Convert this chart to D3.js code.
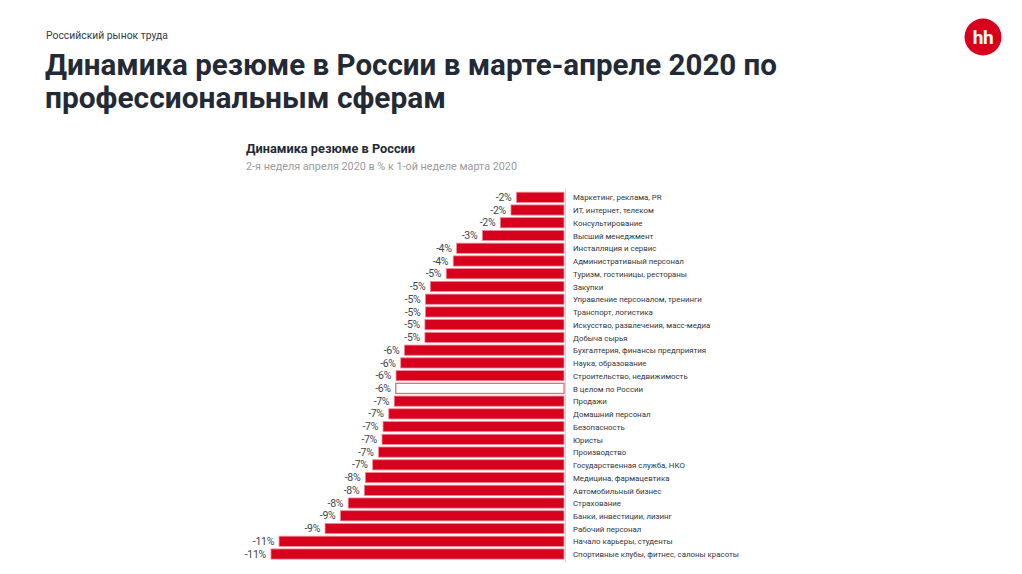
<!DOCTYPE html>
<html>
<head>
<meta charset="utf-8">
<script src="https://cdn.jsdelivr.net/npm/d3@7"></script>
<style>
  html, body { margin: 0; padding: 0; background: #fff; }
  svg { display: block; }
</style>
</head>
<body>
<svg id="chart" width="1022" height="574"></svg>
<script>
// ---- data ----
const categories = [
  "Маркетинг, реклама, PR",
  "ИТ, интернет, телеком",
  "Консультирование",
  "Высший менеджмент",
  "Инсталляция и сервис",
  "Административный персонал",
  "Туризм, гостиницы, рестораны",
  "Закупки",
  "Управление персоналом, тренинги",
  "Транспорт, логистика",
  "Искусство, развлечения, масс-медиа",
  "Добыча сырья",
  "Бухгалтерия, финансы предприятия",
  "Наука, образование",
  "Строительство, недвижимость",
  "В целом по России",
  "Продажи",
  "Домашний персонал",
  "Безопасность",
  "Юристы",
  "Производство",
  "Государственная служба, НКО",
  "Медицина, фармацевтика",
  "Автомобильный бизнес",
  "Страхование",
  "Банки, инвестиции, лизинг",
  "Рабочий персонал",
  "Начало карьеры, студенты",
  "Спортивные клубы, фитнес, салоны красоты"
];
// change of resumes, % (negative)
const values = [
  -1.83, -2.04, -2.45, -3.14, -4.13, -4.26, -4.53, -5.14, -5.33, -5.33,
  -5.35, -5.35, -6.14, -6.28, -6.46, -6.47, -6.53, -6.74, -6.96, -7.00,
  -7.13, -7.36, -7.64, -7.68, -8.30, -8.60, -9.19, -10.96, -11.27
];
const totalCategory = "В целом по России";
const pageKicker = "Российский рынок труда";
const pageTitle = ["Динамика резюме в России в марте-апреле 2020 по", "профессиональным сферам"];
const chartTitle = "Динамика резюме в России";
const chartSubtitle = "2-я неделя апреля 2020 в % к 1-ой неделе марта 2020";

// ---- drawing ----
const svg = d3.select("#chart");
const RED = "#d7001d";
const FONT = "Roboto, 'Noto Sans', sans-serif";

function fitWidth(sel, w) {
  const n = sel.node();
  const cur = n.getComputedTextLength();
  if (cur > 0) sel.attr("textLength", w).attr("lengthAdjust", "spacingAndGlyphs");
}

// kicker
svg.append("text").attr("x", 46).attr("y", 39)
  .attr("font-family", FONT).attr("font-size", 11.5).attr("fill", "#333a44")
  .text(pageKicker).call(s => fitWidth(s, 122));

// title
const titleWidths = [732, 401];
pageTitle.forEach((t, i) => {
  svg.append("text").attr("x", 45).attr("y", 75 + i * 33)
    .attr("font-family", FONT).attr("font-weight", 700).attr("font-size", 30)
    .attr("fill", "#232a35").text(t).call(s => fitWidth(s, titleWidths[i]));
});

// logo
const logo = svg.append("g").attr("transform", "translate(983,37)");
logo.append("circle").attr("r", 18.5).attr("fill", RED);
logo.append("text").attr("text-anchor", "middle").attr("y", 6.5)
  .attr("font-family", FONT).attr("font-weight", 700).attr("font-size", 19)
  .attr("fill", "#fff").attr("letter-spacing", -0.5).text("hh");

// chart title
svg.append("text").attr("x", 246).attr("y", 153)
  .attr("font-family", FONT).attr("font-weight", 700).attr("font-size", 12.5)
  .attr("fill", "#232a35").text(chartTitle).call(s => fitWidth(s, 169));
svg.append("text").attr("x", 246).attr("y", 170)
  .attr("font-family", FONT).attr("font-size", 11).attr("fill", "#9a9a9a")
  .text(chartSubtitle).call(s => fitWidth(s, 271));

// scales
const x = d3.scaleLinear().domain([0, -12]).range([564, 564 - 26 * 12]);
const y = d3.scaleBand().domain(categories).range([190.9, 560.4]).paddingInner(0.2).paddingOuter(0.1);

// axis line (zero line)
svg.append("line").attr("x1", x(0) + 1.5).attr("x2", x(0) + 1.5)
  .attr("y1", 189).attr("y2", 562).attr("stroke", "#d4d4d4").attr("stroke-width", 1);

const rows = categories.map((c, i) => ({ c, v: values[i] }));

svg.append("g").selectAll("rect").data(rows).join("rect")
  .attr("x", d => x(d.v))
  .attr("y", d => y(d.c))
  .attr("width", d => x(0) - x(d.v))
  .attr("height", y.bandwidth())
  .attr("fill", d => d.c === totalCategory ? "#ffffff" : RED)
  .attr("stroke", d => d.c === totalCategory ? "#e06a7a" : "#ec8c98")
  .attr("stroke-width", d => d.c === totalCategory ? 1.3 : 0.8);

// value labels
svg.append("g").selectAll("text").data(rows).join("text")
  .attr("x", d => x(d.v) - 5)
  .attr("y", d => y(d.c) + y.bandwidth() / 2 + 3.6)
  .attr("text-anchor", "end")
  .attr("font-family", FONT).attr("font-size", 10.5).attr("fill", "#3d4450")
  .attr("letter-spacing", -0.3)
  .text(d => "-" + Math.round(Math.abs(d.v)) + "%");

// category labels
const catG = svg.append("g");
const cats = catG.selectAll("text").data(rows).join("text")
  .attr("x", 573)
  .attr("y", d => y(d.c) + y.bandwidth() / 2 + 3.2)
  .attr("font-family", FONT).attr("font-size", 9).attr("fill", "#2f3540")
  .text(d => d.c);
// scale font so the longest label spans ~166px
const longest = cats.filter(d => d.c === categories[categories.length - 1]).node();
const lw = longest.getComputedTextLength();
if (lw > 0) cats.attr("font-size", 9 * 166 / lw);
</script>
</body>
</html>
